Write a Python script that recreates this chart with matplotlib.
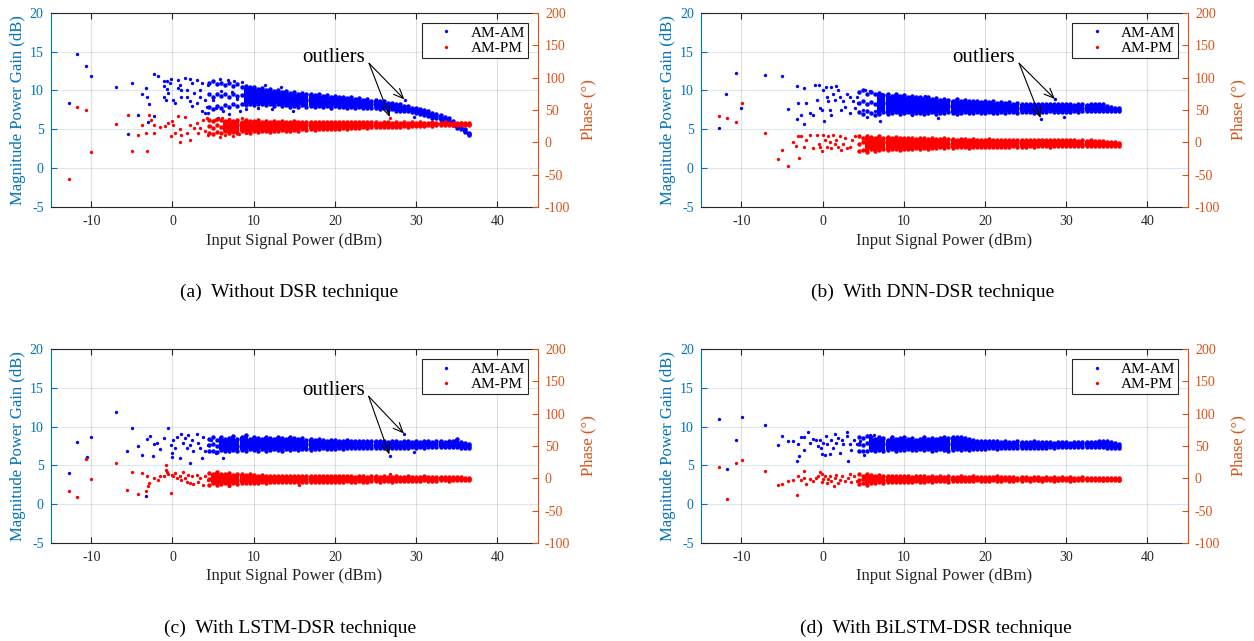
import matplotlib
matplotlib.use('Agg')
import matplotlib.pyplot as plt
from matplotlib.lines import Line2D

plt.rcParams['font.family'] = 'Liberation Serif'
plt.rcParams['axes.unicode_minus'] = False

GAIN_C = '#0072BD'
PHASE_C = '#D95319'
AX_C = '#262626'

# input power samples used for the dense part of every measurement (dBm)
pin_dense = [4.5, 5.0, 5.5, 6.0, 6.5, 7.0, 7.5, 8.0, 8.5, 9.0, 9.5, 10.0, 10.5, 11.0, 11.5,
             12.0, 12.5, 13.0, 13.5, 14.0, 14.5, 15.0, 15.5, 16.0, 16.5, 17.0, 17.5, 18.0,
             18.5, 19.0, 19.5, 20.0, 20.5, 21.0, 21.5, 22.0, 22.5, 23.0, 23.5, 24.0, 24.5,
             25.0, 25.5, 26.0, 26.5, 27.0, 27.5, 28.0, 28.5, 29.0, 29.5, 30.0, 30.5, 31.0,
             31.5, 32.0, 32.5, 33.0, 33.5, 34.0, 34.5, 35.0, 35.5, 36.0, 36.5]

# ---------------- (a) without DSR ----------------
a_gain_x = [-12.7, -11.8, -10.6, -10.0, -7.0, -5.0, -3.3, -3.8, -3.1, -4.3, -5.5, -3.0, -2.9,
            -2.3, -1.8, -2.3, -1.0, -0.7, -0.2, -0.3, -1.1, -0.7, -0.5, -1.1, 0.1, 0.3, -0.8,
            0.7, 0.9, 1.1, 0.7, 1.6, 2.2, 3.0, 2.4, 1.8, 2.6, 1.8, 2.2, 1.1, 3.4, 3.6, 4.0,
            3.4, 4.4, 4.2, 3.6, 4.0, 4.4, 5.6, 5.0, 3.0, 2.4, 28.6, 29.7,
            5.4, 6.2, 7.0, 8.3, 9.1, 10.5, 12.2, 14.8, 5.8, 6.8, 7.6, 8.6, 11.4, 13.3, 6.0,
            7.3, 8.0, 9.6]
a_gain_y = [8.4, 14.7, 13.1, 11.8, 10.4, 11.0, 10.3, 9.5, 9.2, 6.8, 4.4, 6.0, 8.2, 12.1, 11.9,
            6.7, 11.2, 11.2, 11.5, 10.9, 10.6, 10.2, 9.7, 9.2, 8.8, 8.4, 8.8, 10.3, 10.7, 10.0,
            11.4, 11.6, 11.5, 11.4, 10.9, 10.1, 9.7, 9.2, 8.6, 9.2, 10.1, 10.9, 8.8, 9.2, 10.7,
            7.9, 7.3, 7.1, 7.1, 6.5, 8.8, 8.4, 8.0, 8.8, 6.6,
            7.8, 7.4, 7.0, 7.3, 7.6, 7.7, 7.6, 7.4, 11.5, 11.4, 11.2, 11.1, 10.7, 10.4, 9.9,
            9.8, 8.9, 9.0]
a_gain_hi = [11.0, 11.2, 10.8, 11.0, 10.7, 10.9, 10.6, 10.8, 10.5, 10.6, 10.4,
             10.5, 10.2, 10.3, 10.1, 10.2, 9.9, 10.0, 9.8, 9.9, 9.7,
             9.8, 9.6, 9.7, 9.5, 9.6, 9.4, 9.5, 9.3, 9.4, 9.2,
             9.3, 9.1, 9.2, 9.0, 9.1, 8.9, 9.0, 8.8, 8.9, 8.7,
             8.8, 8.6, 8.6, 8.4, 8.4, 8.2, 8.2, 8.0, 8.0, 7.8,
             7.8, 7.6, 7.5, 7.3, 7.1, 7.0, 6.8, 6.6, 6.4, 6.1,
             5.7, 5.4, 5.0, 4.5]
a_gain_mid = [9.6, 9.2, 9.5, 9.3, 9.6, 9.2, 9.5, 9.3, 9.4, 9.5, 9.2,
              9.4, 9.1, 9.3, 9.2, 9.0, 9.1, 9.0, 8.9, 9.0, 8.8,
              8.9, 8.8, 8.7, 8.8, 8.7, 8.7, 8.6, 8.7, 8.5, 8.6,
              8.5, 8.6, 8.4, 8.5, 8.4, 8.4, 8.3, 8.4, 8.2, 8.3,
              8.2, 8.1, 8.1, 8.0, 8.0, 7.9, 7.8, 7.7, 7.6, 7.6,
              7.4, 7.3, 7.2, 7.0, 6.8, 6.7, 6.5, 6.3, 6.1, 5.8,
              5.5, 5.2, 4.8, 4.4]
a_gain_lo = [7.9, 7.6, 8.0, 7.8, 8.1, 7.9, 8.2, 8.0, 8.2, 8.1, 8.3,
             8.1, 8.3, 8.2, 8.1, 8.3, 8.0, 8.2, 8.0, 8.1, 7.9,
             8.0, 7.9, 8.1, 7.9, 8.0, 7.9, 8.0, 7.9, 8.0, 7.8,
             8.0, 7.9, 7.9, 7.8, 7.9, 7.8, 7.9, 7.7, 7.8, 7.7,
             7.7, 7.6, 7.7, 7.5, 7.6, 7.4, 7.4, 7.3, 7.3, 7.2,
             7.1, 7.0, 6.9, 6.7, 6.5, 6.4, 6.2, 6.0, 5.8, 5.5,
             5.2, 5.0, 4.6, 4.3]
a_phase_x = [-12.7, -11.8, -10.6, -10.0, -7.0, -5.5, -5.0, -4.3, -3.8, -3.3, -3.1, -2.9, -2.3,
             -2.7, -2.3, -1.5, -0.9, -0.5, -0.1, 0.1, -0.2, 0.3, 0.7, 0.9, 1.1, 0.9, 1.6, 1.8,
             2.2, 2.2, 2.6, 3.0, 3.2, 3.4, 3.8, 4.0, 4.2, 4.4, 4.6, 5.2, 26.8,
             5.8, 6.5, 7.4, 8.2, 9.0, 6.1, 7.0, 8.6]
a_phase_y = [-56, 54, 50, -15, 28, 42, -14, 12, 26, 15, -14, 42, 26, 34, 14, 23, 25, 30, 33,
             27, 10, 15, 41, 21, 12, 0, 39, 15, 27, 4, 22, 30, 14, 22, 34, 17, 37, 12, 25, 35,
             37,
             8, 12, 10, 13, 14, 38, 36, 37]
a_phase_hi = [35, 33, 36, 34, 33, 35, 33, 34, 32, 34, 33,
              33, 34, 32, 33, 32, 33, 32, 33, 31, 32,
              33, 32, 31, 32, 32, 31, 32, 31, 32, 31,
              32, 31, 31, 32, 31, 31, 32, 31, 31, 31,
              31, 30, 31, 31, 30, 31, 30, 31, 30, 31,
              30, 31, 30, 30, 31, 30, 30, 31, 30, 30,
              30, 30, 30, 29]
a_phase_mid = [25, 22, 27, 24, 26, 23, 25, 27, 24, 26, 25,
               24, 26, 25, 27, 24, 26, 25, 26, 24, 26,
               25, 27, 25, 26, 25, 26, 25, 27, 25, 26,
               27, 26, 26, 27, 26, 27, 26, 27, 27, 26,
               27, 28, 27, 27, 28, 27, 28, 28, 27, 28,
               28, 28, 27, 28, 28, 28, 28, 29, 28, 28,
               28, 29, 28, 28]
a_phase_lo = [15, 13, 16, 14, 17, 15, 16, 14, 17, 16, 15,
              17, 16, 18, 17, 16, 18, 17, 19, 18, 18,
              19, 18, 20, 19, 20, 19, 21, 20, 21, 20,
              21, 21, 22, 21, 22, 22, 22, 23, 22, 23,
              23, 23, 24, 23, 24, 24, 24, 25, 24, 25,
              25, 25, 25, 26, 25, 26, 26, 26, 26, 27,
              26, 27, 27, 27]

# ---------------- (b) DNN-DSR ----------------
b_gain_x = [-12.75, -11.9, -10.6, -10.0, -7.05, -5.0, -4.3, -3.1, -3.0, -3.2, -2.7, -2.3, -2.3,
            -2.0, -1.6, -1.15, -0.9, -0.5, -0.7, -0.3, -0.1, 0.4, 0.1, 0.2, 0.5, 0.7, 0.9, 1.1,
            1.3, 1.5, 1.1, 1.7, 1.9, 2.1, 2.3, 2.5, 2.75, 2.95, 3.4, 3.4, 3.8, 4.0, 4.2, 4.4,
            5.2, 5.0, 5.5, 7.1, 28.6, 26.9, 29.7,
            5.8, 6.4, 7.3, 8.4, 9.2, 11.0, 12.6, 14.2, 6.9]
b_gain_y = [5.2, 9.5, 12.2, 7.8, 11.95, 11.9, 7.6, 10.6, 8.4, 6.3, 6.85, 5.7, 10.3, 8.35, 7.1,
            6.85, 10.7, 10.7, 8.8, 7.7, 7.5, 10.4, 10.1, 6.1, 9.2, 8.6, 7.5, 10.5, 9.5, 8.8,
            6.85, 10.6, 10.1, 9.2, 7.5, 8.6, 7.9, 9.6, 9.2, 7.1, 8.6, 7.7, 9.2, 8.35, 10.1, 7.5,
            6.55, 6.1, 8.85, 6.3, 6.6,
            9.9, 7.3, 9.5, 7.4, 9.4, 6.9, 9.3, 6.5, 8.9]
b_gain_hi = [9.8, 10.0, 9.6, 9.8, 9.5, 9.7, 9.4, 9.6, 9.3, 9.5, 9.3,
             9.4, 9.2, 9.3, 9.1, 9.2, 9.0, 9.2, 8.9, 9.0, 8.8,
             8.9, 8.8, 8.7, 8.9, 8.7, 8.8, 8.6, 8.7, 8.6, 8.5,
             8.6, 8.5, 8.6, 8.4, 8.5, 8.4, 8.5, 8.3, 8.4, 8.3,
             8.3, 8.3, 8.2, 8.3, 8.2, 8.3, 8.2, 8.2, 8.3, 8.2,
             8.2, 8.2, 8.1, 8.2, 8.2, 8.1, 8.2, 8.2, 8.3, 8.2,
             8.0, 7.9, 7.8, 7.7]
b_gain_mid = [8.4, 8.6, 8.2, 8.5, 8.3, 8.1, 8.4, 8.2, 8.0, 8.3, 8.1,
              8.0, 8.2, 8.0, 8.1, 7.9, 8.0, 7.9, 8.1, 7.9, 7.9,
              7.9, 8.0, 7.8, 7.9, 7.8, 7.9, 7.8, 7.8, 7.7, 7.8,
              7.8, 7.7, 7.8, 7.7, 7.7, 7.8, 7.7, 7.7, 7.8, 7.7,
              7.7, 7.7, 7.8, 7.7, 7.7, 7.7, 7.8, 7.7, 7.7, 7.8,
              7.7, 7.7, 7.8, 7.7, 7.8, 7.8, 7.8, 7.8, 7.8, 7.8,
              7.7, 7.6, 7.6, 7.55]
b_gain_lo = [7.2, 7.0, 7.3, 7.1, 6.9, 7.0, 7.2, 7.0, 7.1, 7.2, 7.0,
             7.1, 7.2, 7.0, 7.1, 7.1, 7.0, 7.1, 7.2, 7.0, 7.1,
             7.1, 7.2, 7.1, 7.0, 7.1, 7.2, 7.1, 7.1, 7.2, 7.1,
             7.1, 7.2, 7.1, 7.1, 7.2, 7.1, 7.2, 7.2, 7.1, 7.2,
             7.2, 7.2, 7.1, 7.2, 7.2, 7.2, 7.3, 7.2, 7.2, 7.2,
             7.2, 7.2, 7.3, 7.2, 7.3, 7.3, 7.3, 7.3, 7.4, 7.4,
             7.4, 7.3, 7.4, 7.4]
b_phase_x = [-12.75, -11.8, -10.6, -9.9, -7.05, -5.5, -5.0, -4.3, -3.7, -3.3, -2.9, -3.0, -2.6,
             -2.3, -2.0, -1.6, -1.15, -0.7, -0.5, -0.3, -0.1, 0.1, 0.3, 0.5, 0.7, 0.9, 1.1, 1.3,
             1.5, 1.7, 1.9, 2.1, 2.3, 2.5, 2.75, 2.95, 3.4, 3.6, 4.0, 26.9]
b_phase_y = [41, 37, 32, 60, 14, -26, -12, -36, 1, -5, -25, 10, 10, -7, 4, 11, -9, 11, -2, -7,
             -14, 11, 4, -7, 9, 1, -9, 11, -2, 4, -7, 9, -12, -2, 6, -9, -7, 4, 9, 4]
b_phase_hi = [9, 7, 10, 8, 7, 9, 6, 8, 7, 8, 6,
              7, 6, 7, 5, 6, 6, 5, 6, 5, 5,
              6, 5, 5, 4, 5, 5, 4, 5, 4, 4,
              4, 5, 4, 4, 4, 4, 3, 4, 4, 3,
              4, 3, 4, 3, 3, 4, 3, 3, 4, 3,
              3, 3, 3, 2, 3, 2, 3, 2, 2, 2,
              1, 1, 0, -1]
b_phase_mid = [-3, 0, -4, -1, -3, -2, 0, -3, -1, -2, -3,
               -2, -1, -3, -2, -1, -2, -3, -1, -2, -2,
               -1, -2, -2, -1, -2, -2, -1, -2, -1, -2,
               -1, -2, -1, -2, -1, -1, -2, -1, -1, -2,
               -1, -2, -1, -1, -2, -1, -1, -2, -1, -1,
               -1, -2, -1, -1, -2, -1, -2, -2, -2, -2,
               -2, -2, -3, -3]
b_phase_lo = [-14, -12, -15, -11, -13, -12, -10, -12, -11, -10, -12,
              -11, -10, -11, -9, -10, -9, -10, -9, -9, -8,
              -9, -8, -9, -8, -8, -8, -9, -8, -7, -8,
              -8, -7, -8, -7, -7, -7, -7, -6, -7, -7,
              -7, -6, -7, -6, -6, -6, -7, -6, -6, -6,
              -6, -6, -5, -6, -6, -5, -6, -5, -5, -6,
              -5, -5, -6, -6]

# ---------------- (c) LSTM-DSR ----------------
c_gain_x = [-12.7, -11.8, -10.5, -10.0, -7.0, -5.55, -5.0, -4.3, -3.8, -3.3, -3.1, -2.8, -2.3,
            -2.4, -1.9, -1.5, -1.0, -0.5, -0.2, -0.1, 0.1, -0.1, 0.3, 0.5, 0.9, 1.1, 1.35,
            1.55, 1.75, 1.95, 2.1, 2.15, 2.35, 2.55, 3.0, 3.2, 3.4, 3.6, 3.8, 4.0, 4.4, 4.8,
            5.4, 6.2, 28.55, 26.8, 29.7]
c_gain_y = [4.0, 8.0, 6.05, 8.6, 11.9, 6.8, 9.8, 7.5, 6.3, 1.1, 8.45, 8.8, 7.7, 6.2, 7.9, 7.1,
            8.5, 9.8, 7.6, 6.6, 8.3, 6.1, 7.2, 8.7, 5.9, 9.1, 7.85, 8.5, 7.2, 8.9, 5.3, 7.6,
            8.3, 6.9, 9.1, 7.85, 7.2, 5.9, 8.7, 6.8, 7.6, 8.3, 6.6, 6.0, 9.0, 6.2, 6.7]
c_gain_hi = [8.4, 8.6, 8.3, 8.7, 8.4, 8.5, 8.8, 8.4, 8.6, 8.9, 8.4,
             8.6, 8.5, 8.4, 8.7, 8.5, 8.4, 8.6, 8.5, 8.4, 8.7,
             8.5, 8.4, 8.5, 8.3, 8.4, 8.3, 8.4, 8.3, 8.2, 8.3,
             8.3, 8.2, 8.2, 8.3, 8.2, 8.2, 8.1, 8.2, 8.1, 8.1,
             8.2, 8.1, 8.1, 8.0, 8.1, 8.1, 8.0, 8.1, 8.1, 8.0,
             8.1, 8.0, 8.1, 8.1, 8.0, 8.1, 8.1, 8.0, 8.1, 8.1,
             8.4, 8.0, 7.9, 7.7]
c_gain_mid = [7.6, 7.8, 7.5, 7.7, 7.9, 7.6, 7.8, 7.5, 7.9, 7.7, 7.6,
              7.8, 7.6, 7.7, 7.9, 7.6, 7.7, 7.8, 7.6, 7.7, 7.8,
              7.7, 7.6, 7.8, 7.7, 7.6, 7.7, 7.7, 7.6, 7.7, 7.7,
              7.6, 7.7, 7.7, 7.6, 7.7, 7.7, 7.6, 7.7, 7.7, 7.6,
              7.7, 7.7, 7.6, 7.7, 7.7, 7.7, 7.6, 7.7, 7.7, 7.7,
              7.7, 7.7, 7.7, 7.8, 7.7, 7.7, 7.8, 7.7, 7.7, 7.8,
              7.8, 7.7, 7.6, 7.5]
c_gain_lo = [6.8, 6.9, 6.7, 7.0, 6.8, 6.9, 7.0, 6.8, 7.0, 6.9, 7.1,
             7.0, 6.9, 7.1, 6.8, 7.0, 7.1, 7.0, 6.9, 7.1, 7.0,
             7.1, 7.0, 7.1, 7.1, 7.0, 7.1, 7.1, 7.2, 7.1, 7.1,
             7.1, 7.2, 7.1, 7.2, 7.2, 7.2, 7.2, 7.2, 7.3, 7.2,
             7.2, 7.3, 7.2, 7.3, 7.3, 7.3, 7.3, 7.3, 7.3, 7.4,
             7.3, 7.4, 7.3, 7.4, 7.4, 7.4, 7.4, 7.4, 7.4, 7.4,
             7.4, 7.3, 7.3, 7.3]
c_phase_x = [-12.7, -11.8, -10.6, -10.0, -7.0, -5.55, -5.0, -4.3, -3.8, -3.3, -3.1, -3.0, -2.9,
             -2.3, -1.8, -1.5, -1.1, -0.8, -0.7, -0.8, -0.2, -0.5, -0.1, 0.1, 0.3, 0.5, 0.9,
             1.1, 1.3, 1.55, 1.75, 1.95, 2.15, 2.35, 2.55, 3.0, 3.2, 3.4, 3.8, 4.0, 4.4, 7.0,
             15.6, 26.8]
c_phase_y = [-19, -29, 30, -1, 24, -18, 10, -24, 8, -19, 4, -12, -8, 0, -3, 3, 4, 13, 9, 21,
             -22, 7, 5, 3, 8, 0, 4, -2, 10, 0, -5, 5, -8, 3, -9, 5, -5, 0, -10, 3, -3, -12,
             -10, 6]
c_phase_hi = [8, 6, 9, 7, 6, 8, 5, 7, 6, 5, 6,
              5, 4, 5, 4, 3, 4, 3, 4, 3, 4,
              3, 4, 3, 3, 4, 3, 3, 4, 3, 3,
              3, 4, 3, 3, 3, 2, 3, 3, 2, 3,
              3, 2, 3, 2, 2, 3, 2, 2, 3, 2,
              2, 2, 3, 2, 2, 2, 2, 2, 2, 2,
              2, 2, 1, 1]
c_phase_mid = [-1, -3, 0, -2, -1, -3, -1, -2, 0, -2, -1,
               -2, -1, -2, -1, -2, -1, -2, -1, -2, -1,
               -1, -1, -2, -1, -1, -1, -2, -1, -1, -1,
               -1, -1, -2, -1, -1, -1, -1, -1, -2, -1,
               -1, -1, -1, -1, -1, -1, -1, -1, -1, -1,
               -1, -1, -1, -1, -1, -1, -1, -1, -1, -1,
               -1, -1, -1, -1]
c_phase_lo = [-10, -8, -11, -9, -7, -10, -8, -9, -7, -8, -8,
              -7, -8, -6, -7, -6, -6, -5, -6, -5, -6,
              -5, -6, -5, -5, -6, -5, -5, -6, -5, -5,
              -5, -5, -5, -4, -5, -5, -4, -5, -5, -4,
              -4, -5, -4, -4, -5, -4, -4, -4, -4, -4,
              -4, -4, -3, -4, -4, -4, -3, -3, -4, -3,
              -3, -3, -3, -3]

# ---------------- (d) BiLSTM-DSR ----------------
d_gain_x = [-12.75, -11.8, -10.6, -9.95, -7.05, -5.5, -5.0, -4.3, -3.7, -3.2, -3.0, -2.9, -2.7,
            -2.3, -2.3, -1.85, -1.5, -1.15, -0.75, -0.55, -0.35, -0.25, -0.1, 0.1, 0.3, 0.4,
            0.6, 0.9, 1.1, 1.3, 1.5, 1.7, 1.9, 2.1, 2.35, 2.55, 2.95, 3.05, 3.15, 3.35, 3.55,
            3.85, 4.2, 4.6, 5.1, 5.8, 6.3]
d_gain_y = [11.0, 4.5, 8.25, 11.25, 10.2, 7.6, 8.8, 8.2, 8.1, 5.55, 7.7, 6.2, 8.7, 8.7, 7.0,
            9.3, 7.9, 8.4, 8.3, 7.5, 8.3, 7.2, 6.5, 7.9, 6.3, 8.8, 7.7, 6.5, 8.3, 7.3, 9.1,
            7.9, 8.55, 6.6, 8.3, 7.7, 8.8, 9.3, 5.55, 7.7, 7.0, 8.3, 7.7, 8.1, 6.3, 8.85, 8.85]
d_gain_hi = [8.7, 8.5, 8.8, 8.6, 8.4, 8.6, 8.5, 8.3, 8.6, 8.4, 8.5,
             8.6, 8.4, 8.5, 8.3, 8.4, 8.6, 8.4, 8.5, 8.4, 8.5,
             8.6, 8.5, 8.7, 8.6, 8.7, 8.5, 8.4, 8.3, 8.2, 8.2,
             8.1, 8.2, 8.1, 8.1, 8.0, 8.1, 8.0, 8.0, 8.1, 8.0,
             8.0, 8.0, 8.1, 8.0, 8.0, 8.0, 8.0, 7.9, 8.0, 8.0,
             8.0, 7.9, 8.0, 8.0, 8.0, 8.0, 8.0, 8.0, 8.1, 8.1,
             8.1, 8.0, 7.9, 7.7]
d_gain_mid = [7.8, 7.6, 7.9, 7.7, 7.6, 7.8, 7.7, 7.6, 7.8, 7.7, 7.6,
              7.8, 7.7, 7.6, 7.8, 7.7, 7.8, 7.7, 7.7, 7.8, 7.7,
              7.8, 7.7, 7.9, 7.8, 7.7, 7.8, 7.7, 7.6, 7.7, 7.6,
              7.6, 7.7, 7.6, 7.6, 7.6, 7.6, 7.7, 7.6, 7.6, 7.7,
              7.6, 7.7, 7.7, 7.6, 7.7, 7.7, 7.7, 7.6, 7.7, 7.7,
              7.7, 7.6, 7.7, 7.7, 7.7, 7.7, 7.7, 7.7, 7.8, 7.7,
              7.7, 7.6, 7.5, 7.45]
d_gain_lo = [6.8, 6.9, 6.8, 7.0, 6.9, 7.0, 6.9, 7.0, 7.1, 6.9, 7.0,
             7.0, 7.1, 7.0, 7.0, 7.1, 7.0, 7.1, 6.9, 7.0, 7.1,
             7.0, 6.9, 7.0, 7.1, 7.0, 7.1, 7.0, 7.1, 7.1, 7.1,
             7.1, 7.2, 7.2, 7.1, 7.2, 7.2, 7.2, 7.3, 7.3, 7.2,
             7.3, 7.3, 7.3, 7.3, 7.3, 7.3, 7.4, 7.3, 7.4, 7.4,
             7.4, 7.4, 7.4, 7.4, 7.4, 7.4, 7.4, 7.4, 7.4, 7.4,
             7.3, 7.3, 7.2, 7.2]
d_phase_x = [-12.75, -11.8, -10.6, -9.95, -7.05, -5.5, -5.0, -4.3, -3.7, -3.2, -3.0, -2.7, -2.3,
             -2.3, -2.0, -1.55, -1.15, -0.85, -0.55, -0.35, -0.1, -0.1, 0.1, 0.3, 0.5, 0.7,
             0.9, 1.1, 1.4, 1.5, 1.7, 1.9, 2.1, 2.45, 2.75, 3.15, 3.35, 3.55, 3.85, 4.2]
d_phase_y = [18, -32, 23, 29, 11, -10, -9, -4, -3, -26, 3, -3, 11, 1, -9, -1, -4, 1, 4, 10, 6,
             -6, -1, 4, -7, -1, 4, -4, -12, 1, 5, -7, -2, 4, -4, 1, 6, -6, 4, -4]
d_phase_hi = [6, 4, 7, 5, 4, 5, 3, 4, 3, 4, 3,
              3, 4, 2, 3, 3, 3, 2, 3, 2, 3,
              2, 3, 2, 2, 3, 2, 2, 3, 2, 2,
              2, 2, 2, 3, 2, 2, 2, 2, 1, 2,
              2, 1, 2, 2, 1, 2, 1, 2, 1, 2,
              1, 2, 1, 1, 2, 1, 1, 1, 1, 1,
              1, 0, 0, 0]
d_phase_mid = [-2, -1, -3, -1, -2, 0, -2, -1, -2, -1, -1,
               -1, -1, -2, -1, -1, -1, -1, -1, -1, -1,
               -1, -1, -1, -1, -1, -1, -1, -1, -1, -1,
               -1, -2, -1, -1, -1, -1, -1, -2, -1, -1,
               -1, -1, -1, -2, -1, -1, -1, -1, -2, -1,
               -1, -1, -2, -1, -1, -1, -1, -1, -1, -2,
               -1, -1, -1, -2]
d_phase_lo = [-9, -8, -10, -7, -8, -6, -7, -6, -5, -6, -5,
              -5, -6, -5, -4, -5, -5, -4, -5, -4, -4,
              -4, -5, -4, -4, -4, -4, -4, -4, -3, -4,
              -4, -4, -3, -4, -4, -3, -4, -4, -3, -4,
              -3, -4, -3, -3, -4, -3, -3, -4, -3, -3,
              -3, -4, -3, -3, -3, -3, -3, -3, -3, -3,
              -3, -3, -3, -3]

captions = ['(a)  Without DSR technique', '(b)  With DNN-DSR technique',
            '(c)  With LSTM-DSR technique', '(d)  With BiLSTM-DSR technique']

panels = [
    (a_gain_x, a_gain_y, [a_gain_hi, a_gain_mid, a_gain_lo],
     a_phase_x, a_phase_y, [a_phase_hi, a_phase_mid, a_phase_lo]),
    (b_gain_x, b_gain_y, [b_gain_hi, b_gain_mid, b_gain_lo],
     b_phase_x, b_phase_y, [b_phase_hi, b_phase_mid, b_phase_lo]),
    (c_gain_x, c_gain_y, [c_gain_hi, c_gain_mid, c_gain_lo],
     c_phase_x, c_phase_y, [c_phase_hi, c_phase_mid, c_phase_lo]),
    (d_gain_x, d_gain_y, [d_gain_hi, d_gain_mid, d_gain_lo],
     d_phase_x, d_phase_y, [d_phase_hi, d_phase_mid, d_phase_lo]),
]

# where the cloud becomes solid (dBm): gain, phase
solid_from = [(9.0, 6.5), (7.0, 5.5), (6.0, 5.0), (6.0, 5.5)]

# axes rectangles and caption anchors in figure fractions
rects = [[0.0404, 0.677, 0.3886, 0.3031], [0.5588, 0.677, 0.3886, 0.3031],
         [0.0404, 0.1529, 0.3886, 0.3027], [0.5588, 0.1529, 0.3886, 0.3027]]
cap_pos = [(0.2305, 0.5445), (0.744, 0.5445), (0.2313, 0.0203), (0.7464, 0.0203)]

# "outliers" callouts: text anchor, arrow tail, arrow heads (gain-axis units)
notes = [
    ((16.0, 13.7), (24.2, 13.5), [(28.55, 8.85), (26.75, 6.6)]),
    ((16.0, 13.7), (24.2, 13.5), [(28.6, 8.9), (26.85, 6.45)]),
    ((16.0, 14.05), (24.15, 13.9), [(28.5, 9.1), (26.7, 6.4)]),
    None,
]


def draw_cloud(ax, band, start, color):
    hi, mid, lo = band
    cols = [(x, l, h) for x, l, h in zip(pin_dense, lo, hi) if x >= start]
    ax.vlines([c[0] for c in cols], [c[1] for c in cols], [c[2] for c in cols],
              colors=color, lw=3.0)
    for strand in band:
        ax.plot(pin_dense, strand, 'o', color=color, ms=3.2, mew=0)


fig = plt.figure(figsize=(12.54, 6.41), dpi=100)

for i, (gx, gy, gband, phx, phy, pband) in enumerate(panels):
    ax = fig.add_axes(rects[i])
    ax.set_xlim(-15, 45)
    ax.set_ylim(-5, 20)
    ax.set_xticks(range(-10, 41, 10))
    ax.set_yticks(range(-5, 21, 5))
    ax.grid(axis='x', color=AX_C, alpha=0.15, lw=0.8)
    ax.grid(axis='y', color=GAIN_C, alpha=0.15, lw=0.8)
    ax.set_axisbelow(True)

    draw_cloud(ax, gband, solid_from[i][0], 'blue')
    ax.plot(gx, gy, 'o', color='blue', ms=2.4, mew=0)

    ax.spines['left'].set_color(GAIN_C)
    ax.spines['right'].set_visible(False)
    ax.spines['top'].set_color(AX_C)
    ax.spines['bottom'].set_color(AX_C)
    ax.tick_params(axis='x', direction='in', top=True, colors=AX_C, labelsize=10,
                   length=4, pad=6)
    ax.tick_params(axis='y', direction='in', colors=GAIN_C, labelsize=10, length=4, pad=5)
    ax.set_xlabel('Input Signal Power (dBm)', fontsize=12, color=AX_C, labelpad=3)
    ax.set_ylabel('Magnitude Power Gain (dB)', fontsize=12, color=GAIN_C, labelpad=3)

    ax2 = ax.twinx()
    ax2.set_ylim(-100, 200)
    ax2.set_yticks(range(-100, 201, 50))
    draw_cloud(ax2, pband, solid_from[i][1], 'red')
    ax2.plot(phx, phy, 'o', color='red', ms=2.4, mew=0)
    for side in ('left', 'top', 'bottom'):
        ax2.spines[side].set_visible(False)
    ax2.spines['right'].set_color(PHASE_C)
    ax2.tick_params(axis='y', direction='in', colors=PHASE_C, labelsize=10, length=4, pad=5)
    ax2.set_ylabel('Phase (°)', fontsize=12, color=PHASE_C, labelpad=7)

    handles = [Line2D([], [], ls='none', marker='o', ms=2.4, mew=0, color='blue'),
               Line2D([], [], ls='none', marker='o', ms=2.4, mew=0, color='red')]
    leg = ax2.legend(handles, ['AM-AM', 'AM-PM'], loc='upper right',
                     bbox_to_anchor=(0.9795, 0.947), borderaxespad=0, fontsize=11,
                     fancybox=False, edgecolor=AX_C, framealpha=1,
                     handlelength=2.75, handletextpad=0.2, borderpad=0.2,
                     labelspacing=0.1)
    leg.get_frame().set_linewidth(0.8)

    if notes[i] is not None:
        txt_xy, tail, heads = notes[i]
        ax.text(txt_xy[0], txt_xy[1], 'outliers', fontsize=15, ha='left', va='baseline',
                color='black')
        for head in heads:
            ax.annotate('', xy=head, xytext=tail,
                        arrowprops=dict(arrowstyle='->,head_length=0.7,head_width=0.3',
                                        color='black', lw=0.8, shrinkA=0, shrinkB=0))

    fig.text(cap_pos[i][0], cap_pos[i][1], captions[i], fontsize=14, ha='center',
             va='center', color='black')

fig.savefig('out.png', dpi=100)
